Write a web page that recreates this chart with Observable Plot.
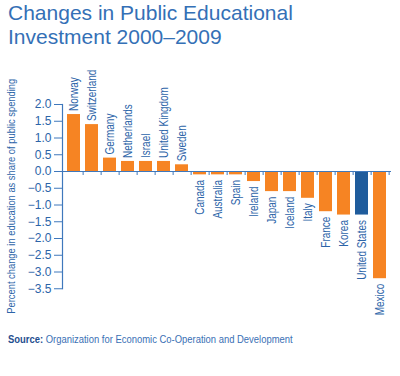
<!DOCTYPE html>
<html>
<head>
<meta charset="utf-8">
<script src="https://cdn.jsdelivr.net/npm/d3@7"></script>
<script src="https://cdn.jsdelivr.net/npm/@observablehq/plot@0.6"></script>
<style>
  html, body { margin: 0; padding: 0; background: #fff; }
  body { width: 400px; height: 376px; overflow: hidden; }
  #title { box-sizing: border-box; height: 55px; padding: 1px 0 0 8px; font-family: "Liberation Sans", Arial, sans-serif; font-size: 21px; line-height: 24px; color: #3470b6; font-weight: normal; }
  #caption { margin-top: 7px; padding-left: 8px; font-family: "Liberation Sans", Arial, sans-serif; font-size: 11.5px; line-height: 14px; color: #3a70b5; white-space: nowrap; }
  #caption span { display: inline-block; transform: scaleX(0.82); transform-origin: 0 50%; }
  #caption b { color: #1f4f8f; }
  #chart svg { display: block; }
</style>
</head>
<body>
<div id="title">Changes in Public Educational<br>Investment 2000–2009</div>
<div id="chart"></div>
<div id="caption"><span><b>Source:</b> Organization for Economic Co-Operation and Development</span></div>
<script>
const countries = ["Norway", "Switzerland", "Germany", "Netherlands", "Israel", "United Kingdom", "Sweden", "Canada", "Australia", "Spain", "Ireland", "Japan", "Iceland", "Italy", "France", "Korea", "United States", "Mexico"];
const values = [1.7, 1.4, 0.4, 0.3, 0.3, 0.3, 0.2, -0.1, -0.1, -0.1, -0.3, -0.6, -0.6, -0.8, -1.2, -1.3, -1.3, -3.2];
const yTicks = [2.0, 1.5, 1.0, 0.5, 0.0, -0.5, -1.0, -1.5, -2.0, -2.5, -3.0, -3.5];
const highlight = "United States";
const yLabel = "Percent change in education as share of public spending";

const data = countries.map((c, i) => ({country: c, value: values[i]}));
const pos = data.filter(d => d.value >= 0);
const neg = data.filter(d => d.value < 0);

const ORANGE = "#f68423";
const BLUE_BAR = "#1f5c9c";
const TEXT_BLUE = "#2c64a8";
const AXIS_BLUE = "#3f78bc";
const sans = "'Liberation Sans', Arial, sans-serif";

const chart = Plot.plot({
  width: 400,
  height: 270,
  marginLeft: 62,
  marginRight: 9,
  marginTop: 49,
  marginBottom: 36.75,
  style: {fontFamily: sans, background: "#fff", overflow: "visible"},
  x: {domain: countries, paddingInner: 0.29, paddingOuter: 0.145, axis: null},
  y: {domain: [-3.5, 2.0], axis: null},
  marks: [
    Plot.barY(data, {x: "country", y: "value", fill: d => d.country === highlight ? BLUE_BAR : ORANGE}),
    Plot.frame({anchor: "left", stroke: AXIS_BLUE, strokeWidth: 1.2}),
    Plot.ruleY([0], {stroke: AXIS_BLUE, strokeWidth: 1.2}),
    Plot.ruleX(countries, {x: d => d, y1: 0, y2: 0, insetBottom: -4, dx: 9.14, stroke: AXIS_BLUE}),
    Plot.axisY(yTicks, {tickSize: 8, tickPadding: 3, tickFormat: d3.format(".1f"), stroke: AXIS_BLUE, fill: TEXT_BLUE, fontSize: 12, label: null}),
    Plot.text(pos, {x: "country", y: "value", text: "country", rotate: -90, textAnchor: "start", dy: -3.5, fill: TEXT_BLUE, fontSize: 12}),
    Plot.text(neg, {x: "country", y: "value", text: "country", rotate: -90, textAnchor: "end", dy: 5, fill: TEXT_BLUE, fontSize: 12}),
    Plot.text([yLabel], {frameAnchor: "bottom-left", text: d => d, rotate: -90, textAnchor: "start", dx: -48, dy: 25, fill: TEXT_BLUE, fontSize: 11})
  ]
});
document.getElementById("chart").appendChild(chart);

// condense label glyphs to mimic the narrow typeface of the original
const textGroups = d3.select(chart).selectAll('g[aria-label="text"]').nodes();
textGroups.slice(0, 2).forEach(g => {
  d3.select(g).selectAll("text").each(function() {
    const L = this.getComputedTextLength();
    this.setAttribute("textLength", L * 0.83);
    this.setAttribute("lengthAdjust", "spacingAndGlyphs");
  });
});
if (textGroups[2]) {
  d3.select(textGroups[2]).selectAll("text").each(function() {
    this.setAttribute("textLength", 235);
    this.setAttribute("lengthAdjust", "spacingAndGlyphs");
  });
}
</script>
</body>
</html>
